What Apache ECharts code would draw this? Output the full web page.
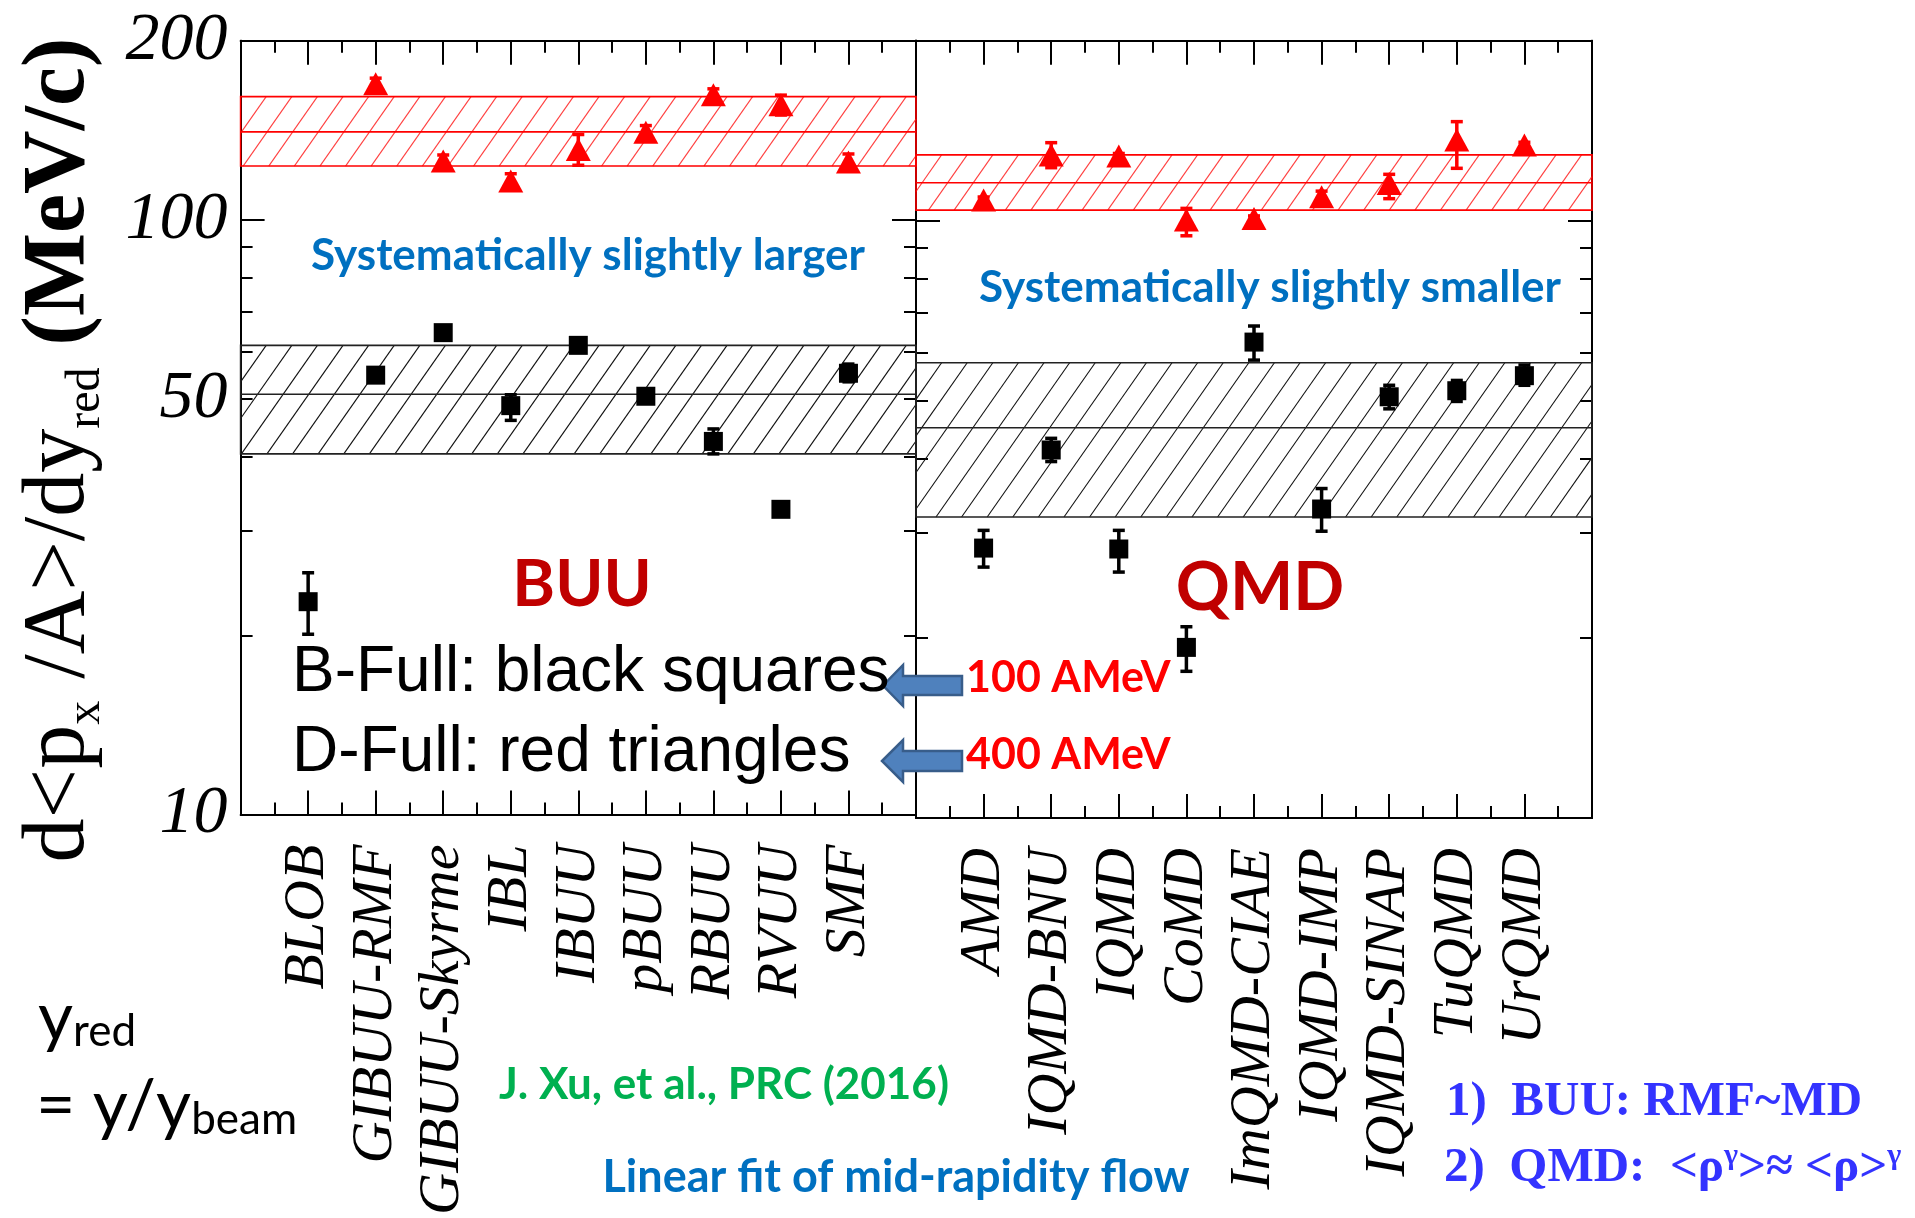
<!DOCTYPE html>
<html><head><meta charset="utf-8">
<script src="https://cdn.jsdelivr.net/npm/echarts@6/dist/echarts.min.js"></script>
<style>html,body{margin:0;padding:0;background:#fff}#c{width:1915px;height:1218px}</style>
</head><body><div id="c"></div>
<script>
// ---------- data ----------
const leftModels = ['BLOB','GIBUU-RMF','GIBUU-Skyrme','IBL','IBUU','pBUU','RBUU','RVUU','SMF'];
const rightModels = ['AMD','IQMD-BNU','IQMD','CoMD','ImQMD-CIAE','IQMD-IMP','IQMD-SINAP','TuQMD','UrQMD'];

// B-Full (100 AMeV) black squares
const leftSquareVal = [22.8, 54.8, 64.6, 48.7, 61.5, 50.5, 42.4, 32.6, 55.2];
const leftSquareLo  = [20.1, 53.6, 63.2, 46.0, 60.6, 49.6, 40.4, 31.9, 53.4];
const leftSquareHi  = [25.5, 56.2, 66.0, 50.8, 62.4, 51.4, 44.5, 33.3, 57.2];
const rightSquareVal = [28.3, 41.3, 28.2, 19.3, 62.6, 32.9, 50.7, 51.9, 55.0];
const rightSquareLo  = [26.3, 39.5, 25.8, 17.6, 58.4, 30.2, 48.4, 49.8, 53.0];
const rightSquareHi  = [30.3, 43.2, 30.3, 20.9, 66.6, 35.6, 53.0, 54.0, 57.3];

// D-Full (400 AMeV) red triangles
const leftTriVal = [null, 169.3, 125.5, 116.2, 131.3, 140.3, 162.2, 156.1, 125.1];
const leftTriLo  = [null, 165.5, 122.5, 113.0, 123.5, 136.5, 158.5, 150.0, 121.5];
const leftTriHi  = [null, 173.0, 128.5, 119.5, 139.1, 144.0, 166.0, 162.0, 129.0];
const rightTriVal = [108.2, 128.8, 128.2, 100.2, 100.8, 109.6, 115.4, 136.4, 133.8];
const rightTriLo  = [107.0, 122.6, 127.0,  94.3,  99.8, 107.0, 108.8, 122.3, 132.5];
const rightTriHi  = [109.5, 135.0, 129.5, 104.8, 101.8, 112.0, 119.5, 146.4, 135.2];

// fit bands [low, mean, high]
const redBandLeft = [123.1, 140.5, 161.1];
const blackBandLeft = [40.4, 50.9, 61.5];
const redBandRight = [104.1, 115.7, 128.8];
const blackBandRight = [31.9, 45.0, 57.8];

// axis ticks / labels
const yMajorTicks = [10, 100, 200];
const yMinorTicks = [20, 30, 40, 50, 60, 70, 80, 90];
const yLabels = [10, 50, 100, 200];

// ---------- helpers ----------
function pts(vals){ return vals.map((v,i)=> v==null?null:[i+1, v]).filter(Boolean); }
function errs(lo,hi){ return lo.map((l,i)=> l==null?null:[i+1, l, hi[i]]).filter(Boolean); }

const G_TOP = 40.7, G_H = 777.3;
const grids = [
  {left: 240.6, top: G_TOP, width: 675.4, height: G_H},
  {left: 916, top: G_TOP, width: 676, height: G_H}
];

function xAxisDef(grid, pos, names){
  return {
    type:'value', gridIndex:grid, position:pos, min:0, max:10, interval:1,
    axisLine:{show:true, onZero:false, lineStyle:{color:'#000', width:2}},
    axisTick:{show:true, inside:true, length:24, lineStyle:{color:'#000', width:2}},
    minorTick:{show:true, splitNumber:2, length:12, lineStyle:{color:'#000', width:2}},
    splitLine:{show:false}, minorSplitLine:{show:false},
    axisLabel: names ? {show:true, rotate:90, margin:30, fontFamily:'Liberation Serif', fontStyle:'italic',
      fontSize:58, color:'#000', formatter: v => names[Math.round(v)-1] || ''} : {show:false}
  };
}
function yAxisDef(grid, pos, ticks, len, labels){
  return {
    type:'log', logBase:10, gridIndex:grid, position:pos, min:10, max:200,
    axisLine:{show:true, onZero:false, lineStyle:{color:'#000', width:2}},
    axisTick:{show:true, inside:true, length:len, customValues:ticks, lineStyle:{color:'#000', width:2}},
    minorTick:{show:false}, splitLine:{show:false}, minorSplitLine:{show:false},
    axisLabel: labels ? {show:true, customValues:labels, margin:13, fontFamily:'Liberation Serif',
      fontStyle:'italic', fontSize:68, color:'#000', formatter: v => String(Math.round(v))} : {show:false}
  };
}

const HATCH_ANGLE = 55 * Math.PI / 180, HATCH_SP = 25.6;
function bandRenderer(color, hatchColor){
  return function(params, api){
    const lo = api.value(0), mid = api.value(1), hi = api.value(2);
    const p1 = api.coord([0, hi]), p2 = api.coord([10, lo]), pm = api.coord([0, mid]);
    const x0 = p1[0], y0 = p1[1], x1 = p2[0], y1 = p2[1];
    const H = y1 - y0, d = H / Math.tan(HATCH_ANGLE);
    const children = [];
    for (let xb = x0 - d; xb < x1; xb += HATCH_SP){
      let ax = xb, ay = y1, bx = xb + d, by = y0;
      const ox = ax, oy = ay, dx = bx - ax, dy = by - ay;
      if (ax < x0){ const t = (x0 - ox)/dx; ax = x0; ay = oy + t*dy; }
      if (bx > x1){ const t = (x1 - ox)/dx; bx = x1; by = oy + t*dy; }
      if (bx > ax) children.push({type:'line', shape:{x1:ax, y1:ay, x2:bx, y2:by},
        style:{stroke:hatchColor, lineWidth:1.1}});
    }
    children.push({type:'rect', shape:{x:x0, y:y0, width:x1-x0, height:H},
      style:{fill:null, stroke:color, lineWidth:1.6}});
    children.push({type:'line', shape:{x1:x0, y1:pm[1], x2:x1, y2:pm[1]},
      style:{stroke:color, lineWidth:1.6}});
    return {type:'group', children};
  };
}
function errRenderer(color){
  return function(params, api){
    const x = api.value(0);
    const a = api.coord([x, api.value(1)]), b = api.coord([x, api.value(2)]);
    const cw = 6;
    return {type:'group', children:[
      {type:'line', shape:{x1:a[0], y1:a[1], x2:b[0], y2:b[1]}, style:{stroke:color, lineWidth:3.5}},
      {type:'line', shape:{x1:a[0]-cw, y1:a[1], x2:a[0]+cw, y2:a[1]}, style:{stroke:color, lineWidth:3.5}},
      {type:'line', shape:{x1:b[0]-cw, y1:b[1], x2:b[0]+cw, y2:b[1]}, style:{stroke:color, lineWidth:3.5}}
    ]};
  };
}
function bandSeries(band, xi, yi, color, hatch){
  return {type:'custom', xAxisIndex:xi, yAxisIndex:yi, data:[band], renderItem:bandRenderer(color, hatch),
    z:1, silent:true, clip:false};
}
function errSeries(lo, hi, xi, yi, color){
  return {type:'custom', xAxisIndex:xi, yAxisIndex:yi, data:errs(lo,hi), encode:{x:0, y:[1,2]},
    renderItem:errRenderer(color), z:3, silent:true};
}
function markSeries(vals, xi, yi, symbol, size, color){
  return {type:'scatter', xAxisIndex:xi, yAxisIndex:yi, data:pts(vals), symbol, symbolSize:size,
    itemStyle:{color, opacity:1}, z:4, silent:true};
}

// ---------- text decorations ----------
function txt(x, y, text, font, fill, align){
  return {type:'text', x, y, silent:true, z:10,
    style:{legacy:false, text, font, fill, align:align||'left', verticalAlign:'middle',
      textAlign:align||'left', textVerticalAlign:'middle'}};
}
function richTxt(x, y, text, rich, align, rotation){
  return {type:'text', x, y, rotation:rotation||0, silent:true, z:10,
    style:{legacy:false, text, rich, align:align||'left', verticalAlign:'middle',
      textAlign:align||'left', textVerticalAlign:'middle', fill:'#000'}};
}
function arrow(tipX, tipY, headBase, bodyEnd, headHalf, bodyHalf){
  return {type:'polygon', silent:true, z:9,
    shape:{points:[[tipX,tipY],[headBase,tipY-headHalf],[headBase,tipY-bodyHalf],[bodyEnd,tipY-bodyHalf],
      [bodyEnd,tipY+bodyHalf],[headBase,tipY+bodyHalf],[headBase,tipY+headHalf]]},
    style:{fill:'#4F81BD', stroke:'#385D8A', lineWidth:2.5}};
}

const graphic = [
  richTxt(60, 450, '{m|d<p}{s|x}{m| /A>/dy}{s|red}{b| (MeV/c)}', {
    m:{fontFamily:'Liberation Serif', fontSize:88, fontWeight:'normal', fill:'#000', lineHeight:100},
    s:{fontFamily:'Liberation Serif', fontSize:48, fontWeight:'normal', fill:'#000', lineHeight:40, verticalAlign:'bottom'},
    b:{fontFamily:'Liberation Serif', fontSize:88, fontWeight:'bold', fill:'#000', lineHeight:100}
  }, 'center', Math.PI/2),
  txt(588, 256, 'Systematically slightly larger', 'bold 44px Lato', '#0070C0', 'center'),
  txt(1270, 288, 'Systematically slightly smaller', 'bold 44px Lato', '#0070C0', 'center'),
  txt(582, 585, 'BUU', 'bold 65px Lato', '#C00000', 'center'),
  txt(1260, 588, 'QMD', 'bold 67px Lato', '#C00000', 'center'),
  txt(292, 673, 'B-Full: black squares', '64px "Liberation Sans"', '#000', 'left'),
  txt(292, 753, 'D-Full: red triangles', '64px "Liberation Sans"', '#000', 'left'),
  arrow(883, 685.5, 903, 962, 20.5, 9.5),
  arrow(882, 761, 903, 962, 21, 10),
  txt(966, 678, '100 AMeV', 'bold 43px Lato', '#FF0000', 'left'),
  txt(966, 755, '400 AMeV', 'bold 43px Lato', '#FF0000', 'left'),
  richTxt(38, 1018, '{m|y}{s|red}', {
    m:{fontFamily:'Lato', fontSize:68, fill:'#000', lineHeight:72},
    s:{fontFamily:'Lato', fontSize:44, fill:'#000', lineHeight:30, verticalAlign:'bottom'}
  }, 'left'),
  richTxt(36, 1106, '{m|= y/y}{s|beam}', {
    m:{fontFamily:'Lato', fontSize:68, fill:'#000', lineHeight:72},
    s:{fontFamily:'Lato', fontSize:44, fill:'#000', lineHeight:30, verticalAlign:'bottom'}
  }, 'left'),
  txt(724, 1085, 'J. Xu, et al., PRC (2016)', 'bold 44px Lato', '#00B050', 'center'),
  txt(896, 1177, 'Linear fit of mid-rapidity flow', 'bold 45px Lato', '#0070C0', 'center'),
  txt(1446, 1102, '1)  BUU: RMF~MD', 'bold 49px "Liberation Serif"', '#3333FF', 'left'),
  richTxt(1444, 1168, '{a|2)  QMD:  <ρ}{p|γ}{a|>≈ <ρ>}{p|γ}', {
    a:{fontFamily:'Liberation Serif', fontSize:49, fontWeight:'bold', fill:'#3333FF', lineHeight:54},
    p:{fontFamily:'Liberation Serif', fontSize:30, fontWeight:'bold', fill:'#3333FF', lineHeight:30, verticalAlign:'top'}
  }, 'left')
];

const option = {
  backgroundColor:'#fff',
  animation:false,
  grid: grids,
  xAxis: [
    xAxisDef(0, 'bottom', leftModels), xAxisDef(0, 'top', null),
    xAxisDef(1, 'bottom', rightModels), xAxisDef(1, 'top', null)
  ],
  yAxis: [
    yAxisDef(0, 'left', yMajorTicks, 24, yLabels), yAxisDef(0, 'left', yMinorTicks, 12, null),
    yAxisDef(0, 'right', yMajorTicks, 24, null), yAxisDef(0, 'right', yMinorTicks, 12, null),
    yAxisDef(1, 'left', yMajorTicks, 24, null), yAxisDef(1, 'left', yMinorTicks, 12, null),
    yAxisDef(1, 'right', yMajorTicks, 24, null), yAxisDef(1, 'right', yMinorTicks, 12, null)
  ],
  series: [
    bandSeries(redBandLeft, 0, 0, '#FF0000', '#FF4040'),
    bandSeries(blackBandLeft, 0, 0, '#222', '#111'),
    bandSeries(redBandRight, 2, 4, '#FF0000', '#FF4040'),
    bandSeries(blackBandRight, 2, 4, '#222', '#111'),
    errSeries(leftSquareLo, leftSquareHi, 0, 0, '#000'),
    errSeries(leftTriLo, leftTriHi, 0, 0, '#FF0000'),
    errSeries(rightSquareLo, rightSquareHi, 2, 4, '#000'),
    errSeries(rightTriLo, rightTriHi, 2, 4, '#FF0000'),
    markSeries(leftSquareVal, 0, 0, 'rect', 19, '#000'),
    markSeries(leftTriVal, 0, 0, 'triangle', [25, 23], '#FF0000'),
    markSeries(rightSquareVal, 2, 4, 'rect', 19, '#000'),
    markSeries(rightTriVal, 2, 4, 'triangle', [25, 23], '#FF0000')
  ],
  graphic: graphic
};
const chart = echarts.init(document.getElementById('c'));
chart.setOption(option);
</script>
</body></html>
